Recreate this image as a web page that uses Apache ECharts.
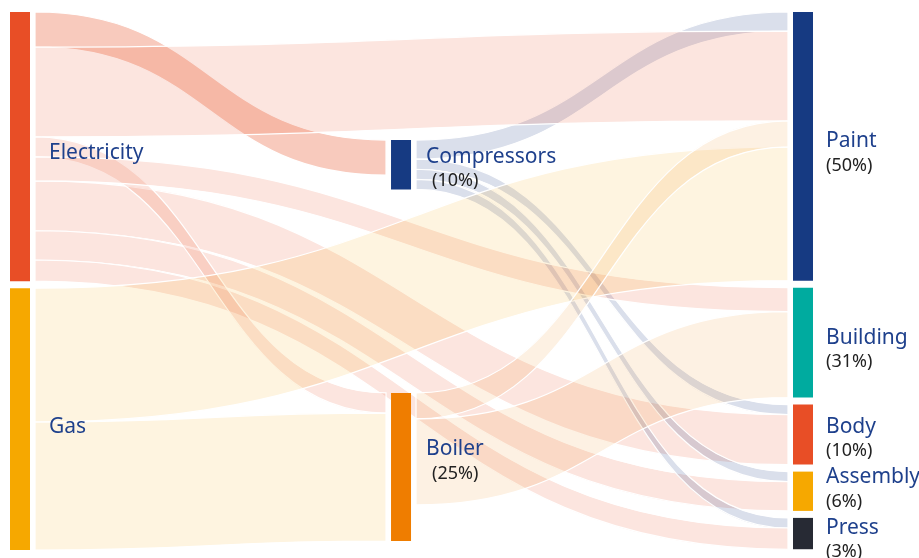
<!DOCTYPE html>
<html>
<head>
<meta charset="utf-8">
<script src="https://cdn.jsdelivr.net/npm/echarts@6/dist/echarts.min.js"></script>
<style>
html, body { margin: 0; padding: 0; background: #fff; }
#chart { width: 919px; height: 558px; }
</style>
</head>
<body>
<div id="chart"></div>
<script>
// nodes, left column to right column
const nodeNames = ['Electricity', 'Gas', 'Compressors', 'Boiler', 'Paint', 'Building', 'Body', 'Assembly', 'Press'];
const nodeShares = ['', '', '10%', '25%', '50%', '31%', '10%', '6%', '3%'];

// energy flows (share of total input); order also fixes how bands stack on a node
const linkSources = ['Electricity', 'Compressors', 'Electricity', 'Compressors', 'Electricity', 'Compressors', 'Electricity',
    'Compressors', 'Electricity', 'Electricity', 'Electricity', 'Gas', 'Gas', 'Boiler', 'Boiler'];
const linkTargets = ['Compressors', 'Paint', 'Paint', 'Body', 'Body', 'Assembly', 'Assembly',
    'Press', 'Press', 'Boiler', 'Building', 'Paint', 'Boiler', 'Paint', 'Building'];
const linkValues = [6.6, 3.6, 16.9, 1.9, 9.4, 1.9, 5.5, 1.9, 4.0, 3.8, 4.5, 25.2, 24.1, 4.9, 16.2];

// styling
const nodeColors = {
    Electricity: '#e84e26', Gas: '#f6a800', Compressors: '#163a82', Boiler: '#ef7d00',
    Paint: '#163a82', Building: '#00ab9f', Body: '#e84e26', Assembly: '#f6a800', Press: '#272a34'
};
const bandAlpha = { Electricity: 0.15, Gas: 0.12, Compressors: 0.16, Boiler: 0.11 };
const labelNudge = {
    Electricity: [19, 6], Gas: [19, 8], Compressors: [15, 4], Boiler: [15, -6],
    Paint: [13, 7], Building: [13, 7], Body: [13, 4], Assembly: [13, -2], Press: [13, 6]
};

const TOP = 12, HEIGHT = 538, LEFT = 10, WIDTH = 803, NODE_W = 20, PAD = 5;
const midX = 0.4745;
const midY = { Compressors: 0.238, Boiler: 0.708 };

const hexToRgba = (hex, a) => {
    const n = parseInt(hex.slice(1), 16);
    return 'rgba(' + (n >> 16) + ',' + ((n >> 8) & 255) + ',' + (n & 255) + ',' + a + ')';
};

const FONT = '"Noto Sans", "Open Sans", sans-serif';

function buildNodes(forBands) {
    return nodeNames.map(function (name, i) {
        const node = { name: name };
        if (midY[name] != null) {
            node.localX = forBands ? midX * WIDTH / (WIDTH + 2 * PAD) : midX;
            node.localY = midY[name];
        }
        if (forBands) {
            node.itemStyle = { color: 'rgba(0,0,0,0)', borderWidth: 0 };
            node.label = { show: false };
        } else {
            node.itemStyle = { color: nodeColors[name], borderWidth: 0 };
            node.label = {
                distance: labelNudge[name][0],
                offset: [0, labelNudge[name][1]],
                formatter: nodeShares[i]
                    ? '{n|' + name + '}\n{' + (midY[name] != null ? 'q' : 'p') + '|(' + nodeShares[i] + ')}'
                    : '{n|' + name + '}'
            };
        }
        return node;
    });
}

function buildLinks(forBands) {
    return linkValues.map(function (v, i) {
        const src = linkSources[i];
        let alpha = bandAlpha[src];
        if (src === 'Electricity' && linkTargets[i] === 'Compressors') alpha = 0.3;
        return {
            source: src,
            target: linkTargets[i],
            value: v,
            lineStyle: forBands
                ? { color: hexToRgba(nodeColors[src], alpha), opacity: 1, borderColor: '#fff', borderWidth: 1.2 }
                : { opacity: 0 }
        };
    });
}

const common = {
    type: 'sankey',
    top: TOP,
    height: HEIGHT,
    nodeGap: 7,
    layoutIterations: 0,
    draggable: false,
    emphasis: { disabled: true },
    lineStyle: { curveness: 0.5 }
};

const chart = echarts.init(document.getElementById('chart'));
chart.setOption({
    backgroundColor: '#fff',
    animation: false,
    series: [
        Object.assign({}, common, {
            left: LEFT - PAD,
            width: WIDTH + 2 * PAD,
            nodeWidth: NODE_W + 2 * PAD,
            data: buildNodes(true),
            links: buildLinks(true),
            label: { show: false }
        }),
        Object.assign({}, common, {
            left: LEFT,
            width: WIDTH,
            nodeWidth: NODE_W,
            data: buildNodes(false),
            links: buildLinks(false),
            label: {
                show: true,
                position: 'right',
                fontFamily: FONT,
                rich: {
                    n: { fontFamily: FONT, fontSize: 21, color: '#1e408c', lineHeight: 25 },
                    p: { fontFamily: FONT, fontSize: 18, color: '#222', lineHeight: 24 },
                    q: { fontFamily: FONT, fontSize: 18, color: '#222', lineHeight: 24, padding: [0, 0, 0, 6] }
                }
            }
        })
    ]
});
</script>
</body>
</html>
